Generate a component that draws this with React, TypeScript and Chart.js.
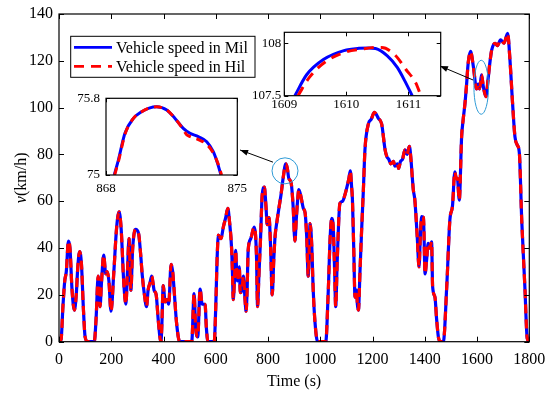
import React, { useEffect, useRef } from "react";
import { Chart, registerables } from "chart.js";

Chart.register(...registerables);

const FONT = "'Liberation Serif', 'Times New Roman', serif";
const BLUE = "#0000ff";
const RED = "#ff0000";
const RING = "#2f9bd6";

// ---------------- main chart data ----------------
const timeS = [
  0, 8, 15, 22, 28, 36, 42, 50, 59, 66, 72, 79, 86, 93, 100, 110, 135, 142, 150, 157,
  163, 171, 179, 184, 191, 199, 210, 220, 230, 238, 248, 256, 262, 268, 275, 282, 293, 305, 312, 319,
  327, 335, 341, 348, 355, 364, 372, 380, 390, 393, 399, 406, 413, 420, 429, 435, 440, 450, 462, 508,
  517, 523, 531, 540, 548, 555, 559, 564, 570, 594, 600, 605, 610, 620, 629, 638, 646, 652, 661, 664,
  667, 672, 676, 680, 683, 690, 694, 700, 706, 712, 716, 720, 724, 734, 747, 752, 756, 760, 765, 771,
  778, 786, 792, 797, 804, 810, 816, 822, 827, 835, 843, 850, 858, 868, 874, 879, 889, 896, 903, 908,
  913, 918, 926, 935, 942, 948, 954, 961, 967, 973, 980, 990, 1021, 1030, 1038, 1044, 1050, 1055, 1059, 1065,
  1075, 1085, 1095, 1102, 1110, 1115, 1120, 1123, 1128, 1133, 1139, 1142, 1146, 1152, 1158, 1165, 1171, 1184, 1195, 1207,
  1215, 1222, 1235, 1248, 1255, 1262, 1270, 1280, 1286, 1295, 1300, 1307, 1315, 1324, 1332, 1341, 1347, 1352, 1356, 1362,
  1371, 1378, 1383, 1388, 1395, 1401, 1407, 1413, 1420, 1426, 1430, 1439, 1445, 1452, 1460, 1471, 1484, 1496, 1506, 1515,
  1520, 1525, 1532, 1541, 1547, 1554, 1560, 1566, 1575, 1586, 1598, 1604, 1610, 1617, 1624, 1634, 1643, 1650, 1656, 1669,
  1678, 1690, 1703, 1717, 1726, 1736, 1745, 1754, 1762, 1771, 1783, 1792, 1800,
];
const milSpeed = [
  0, 1, 15, 26, 30, 43, 40, 22, 13.5, 20, 32, 38.5, 33, 15, 2, 0, 0, 10, 28, 15,
  26, 37, 29, 30, 26, 13, 30, 48, 55.5, 48, 25, 16, 30, 44, 22, 40, 48, 46, 38, 28,
  20, 15, 22, 25, 28, 22, 20, 9, 0, 5, 24, 17, 18, 16, 33, 30, 23, 8, 0, 0,
  20.5, 6, 2, 22.5, 16, 16, 16, 6, 0, 0, 15, 35, 45.5, 44, 49, 53, 57, 52, 39, 29,
  18, 28, 39, 30, 26, 32, 21, 22, 28, 18, 13, 22, 39, 44, 49, 46, 36, 15, 28, 43,
  63, 66, 58, 50, 53, 40, 20, 35, 45, 52, 58, 63, 70, 76, 74, 70, 67.5, 58, 43, 52,
  60, 65, 62, 57, 55, 45, 28, 50.5, 42, 22, 8, 0, 0, 20, 45, 52.7, 48, 30, 15, 35,
  59, 60, 63, 66, 70, 73, 66, 61, 40, 19, 22, 16, 13.5, 30, 47, 65, 82, 93, 95, 98,
  97, 95.5, 93, 82, 79, 78, 76, 77, 75, 76, 74, 77, 78, 82, 80, 83.5, 78, 70.5, 65, 60.5,
  45, 32, 45, 53.4, 53, 29, 35, 42, 40, 42.7, 23.5, 19, 10, 2, 0, 0, 23.5, 52, 58, 72.6,
  70, 69.6, 60.5, 87.6, 95, 102, 110, 119, 124, 117.5, 108, 110, 108, 114, 109, 104.7, 113, 120, 124.6, 127.5,
  126.5, 129, 127.5, 131.7, 120.3, 101.8, 87.6, 84, 80.5, 52, 23.5, 1.5, 0,
];
// The HiL trace lies on top of the MiL trace at this scale
const hilSpeed = milSpeed.slice();

const xTicks = [0, 200, 400, 600, 800, 1000, 1200, 1400, 1600, 1800];
const yTicks = [0, 20, 40, 60, 80, 100, 120, 140];

// ---------------- inset 1 data (868–875 s) ----------------
const in1MilT = [868.44, 868.66, 869.01, 869.46, 869.9, 870.3, 870.7, 871.24, 871.68, 872.12, 872.48, 872.92, 873.37, 873.72, 873.95, 874.13];
const in1MilV = [75.0, 75.156, 75.435, 75.59, 75.66, 75.698, 75.712, 75.678, 75.59, 75.487, 75.435, 75.4, 75.347, 75.243, 75.12, 75.0];
const in1HilT = [868.46, 868.68, 869.02, 869.46, 869.9, 870.3, 870.7, 871.24, 871.68, 872.1, 872.3, 872.5, 872.92, 873.37, 873.72, 873.97, 874.16];
const in1HilV = [75.0, 75.156, 75.43, 75.59, 75.66, 75.698, 75.712, 75.678, 75.59, 75.48, 75.42, 75.4, 75.37, 75.32, 75.23, 75.12, 75.0];
const in1XTicks = [868, 875];
const in1YTicks = [75, 75.8];

// ---------------- inset 2 data (1609–1611.5 s) ----------------
const in2MilT = [1609.17, 1609.36, 1609.63, 1609.96, 1610.2, 1610.36, 1610.47, 1610.66, 1610.82, 1610.96, 1611.06];
const in2MilV = [107.5, 107.7, 107.845, 107.93, 107.952, 107.955, 107.95, 107.88, 107.77, 107.62, 107.5];
const in2HilT = [1609.22, 1609.41, 1609.68, 1610.01, 1610.25, 1610.49, 1610.57, 1610.78, 1610.96, 1611.12, 1611.2];
const in2HilV = [107.5, 107.68, 107.83, 107.92, 107.945, 107.96, 107.96, 107.89, 107.75, 107.62, 107.5];
const in2XTicks = [1609, 1610, 1611];
const in2YTicks = [107.5, 108];

const pts = (t: number[], v: number[]) => t.map((x, i) => ({ x, y: v[i] }));
const plain = (v: any) => String(v);

function frameTicksPlugin(id: string, xt: number[], yt: number[], len: number) {
  return {
    id,
    afterDraw(chart: any) {
      const { ctx, chartArea: a, scales } = chart;
      ctx.save();
      ctx.strokeStyle = "#000";
      ctx.lineWidth = 1;
      ctx.beginPath();
      for (const v of xt) {
        const px = Math.round(scales.x.getPixelForValue(v)) + 0.5;
        ctx.moveTo(px, a.bottom);
        ctx.lineTo(px, a.bottom - len);
        ctx.moveTo(px, a.top);
        ctx.lineTo(px, a.top + len);
      }
      for (const v of yt) {
        const py = Math.round(scales.y.getPixelForValue(v)) + 0.5;
        ctx.moveTo(a.left, py);
        ctx.lineTo(a.left + len, py);
        ctx.moveTo(a.right, py);
        ctx.lineTo(a.right - len, py);
      }
      ctx.stroke();
      ctx.lineWidth = 1.2;
      ctx.strokeRect(a.left, a.top, a.right - a.left, a.bottom - a.top);
      ctx.restore();
    },
  };
}

// annotation positions (data units)
const ring1 = { t: 865, v: 73, rx: 13, ry: 13 };
const ring2 = { t: 1616, v: 108.7, rx: 7.3, ry: 27 };
const arrow1 = { fromT: 819, fromV: 76.7, toT: 693, toV: 81.9 };
const arrow2 = { fromT: 1585, fromV: 111.8, toT: 1458, toV: 117.8 };

const mainDecor = {
  id: "mainDecor",
  afterDraw(chart: any) {
    const { ctx, chartArea: a, scales } = chart;
    const X = (v: number) => scales.x.getPixelForValue(v);
    const Y = (v: number) => scales.y.getPixelForValue(v);
    ctx.save();
    ctx.strokeStyle = RING;
    ctx.lineWidth = 1;
    for (const r of [ring1, ring2]) {
      ctx.beginPath();
      ctx.ellipse(X(r.t), Y(r.v), r.rx, r.ry, 0, 0, Math.PI * 2);
      ctx.stroke();
    }
    ctx.strokeStyle = "#000";
    ctx.fillStyle = "#000";
    for (const ar of [arrow1, arrow2]) {
      const x1 = X(ar.fromT), y1 = Y(ar.fromV), x2 = X(ar.toT), y2 = Y(ar.toV);
      const ang = Math.atan2(y2 - y1, x2 - x1);
      ctx.beginPath();
      ctx.moveTo(x1, y1);
      ctx.lineTo(x2, y2);
      ctx.stroke();
      ctx.beginPath();
      ctx.moveTo(x2, y2);
      ctx.lineTo(x2 - 8 * Math.cos(ang) + 3 * Math.sin(ang), y2 - 8 * Math.sin(ang) - 3 * Math.cos(ang));
      ctx.lineTo(x2 - 8 * Math.cos(ang) - 3 * Math.sin(ang), y2 - 8 * Math.sin(ang) + 3 * Math.cos(ang));
      ctx.closePath();
      ctx.fill();
    }
    // legend
    const lx = 70.7, ly = 36.3, lw = 184.3, lh = 41;
    ctx.fillStyle = "#fff";
    ctx.fillRect(lx, ly, lw, lh);
    ctx.lineWidth = 1;
    ctx.strokeStyle = "#000";
    ctx.strokeRect(lx, ly, lw, lh);
    const rows = [
      { y: 47.3, color: BLUE, dash: [] as number[], text: "Vehicle speed in Mil" },
      { y: 66.3, color: RED, dash: [10, 7], text: "Vehicle speed in Hil" },
    ];
    for (const r of rows) {
      ctx.strokeStyle = r.color;
      ctx.lineWidth = 2.8;
      ctx.setLineDash(r.dash);
      ctx.beginPath();
      ctx.moveTo(74, r.y);
      ctx.lineTo(112, r.y);
      ctx.stroke();
      ctx.setLineDash([]);
      ctx.fillStyle = "#000";
      ctx.font = `16px ${FONT}`;
      ctx.textBaseline = "middle";
      ctx.textAlign = "left";
      ctx.fillText(r.text, 116, r.y + 1);
    }
    // y-axis title with italic v
    ctx.translate(22, (a.top + a.bottom) / 2);
    ctx.rotate(-Math.PI / 2);
    ctx.textBaseline = "middle";
    ctx.textAlign = "left";
    ctx.font = `italic 16px ${FONT}`;
    const w1 = ctx.measureText("v").width;
    ctx.font = `16px ${FONT}`;
    const w2 = ctx.measureText("(km/h)").width;
    const start = -(w1 + w2) / 2;
    ctx.font = `italic 16px ${FONT}`;
    ctx.fillText("v", start, 0);
    ctx.font = `16px ${FONT}`;
    ctx.fillText("(km/h)", start + w1, 0);
    ctx.restore();
  },
};

function MainChart() {
  const ref = useRef<HTMLCanvasElement>(null);
  useEffect(() => {
    const chart = new Chart(ref.current as HTMLCanvasElement, {
      type: "line",
      data: {
        datasets: [
          {
            label: "Vehicle speed in Hil",
            data: pts(timeS, hilSpeed),
            borderColor: RED,
            borderWidth: 3.2,
            borderDash: [9, 6],
            pointRadius: 0,
            cubicInterpolationMode: "monotone",
            fill: false,
          },
          {
            label: "Vehicle speed in Mil",
            data: pts(timeS, milSpeed),
            borderColor: BLUE,
            borderWidth: 3.2,
            pointRadius: 0,
            cubicInterpolationMode: "monotone",
            fill: false,
          },
        ],
      },
      options: {
        responsive: false,
        animation: false,
        devicePixelRatio: 1,
        layout: { padding: { top: 14, right: 20.7, left: 0, bottom: 0 } },
        plugins: { legend: { display: false }, tooltip: { enabled: false } },
        scales: {
          x: {
            type: "linear",
            min: 0,
            max: 1800,
            afterBuildTicks: (s: any) => { s.ticks = xTicks.map((value) => ({ value })); },
            afterFit: (s: any) => { s.height = 51.3; s.paddingLeft = 0; s.paddingRight = 0; },
            grid: { display: false, drawTicks: false },
            border: { display: false },
            ticks: { font: { family: FONT, size: 16 }, color: "#000", padding: 8, maxRotation: 0, autoSkip: false, callback: plain },
            title: { display: true, text: "Time (s)", font: { family: FONT, size: 16 }, color: "#000", padding: { top: 0, bottom: 2 } },
          },
          y: {
            type: "linear",
            min: 0,
            max: 140,
            afterBuildTicks: (s: any) => { s.ticks = yTicks.map((value) => ({ value })); },
            afterFit: (s: any) => { s.width = 59; s.paddingTop = 0; s.paddingBottom = 0; },
            grid: { display: false, drawTicks: false },
            border: { display: false },
            ticks: { font: { family: FONT, size: 16 }, color: "#000", padding: 6, autoSkip: false, callback: plain },
          },
        },
      },
      plugins: [frameTicksPlugin("mainFrame", xTicks, yTicks, 5), mainDecor],
    } as any);
    return () => chart.destroy();
  }, []);
  return <canvas ref={ref} width={550} height={393} style={{ position: "absolute", left: 0, top: 0, width: 550, height: 393 }} />;
}

type InsetProps = {
  left: number; top: number; width: number; height: number;
  box: { l: number; t: number; r: number; b: number };
  xMin: number; xMax: number; yMin: number; yMax: number;
  xt: number[]; yt: number[];
  milT: number[]; milV: number[]; hilT: number[]; hilV: number[];
  xPad: number; yPad: number; dash: number[];
};

function Inset(p: InsetProps) {
  const ref = useRef<HTMLCanvasElement>(null);
  useEffect(() => {
    const bg = {
      id: "insetBg",
      beforeDraw(chart: any) {
        const { ctx, chartArea: a } = chart;
        ctx.save();
        ctx.fillStyle = "#fff";
        ctx.fillRect(a.left, a.top, a.right - a.left, a.bottom - a.top);
        ctx.restore();
      },
    };
    const chart = new Chart(ref.current as HTMLCanvasElement, {
      type: "line",
      data: {
        datasets: [
          {
            data: pts(p.hilT, p.hilV),
            borderColor: RED,
            borderWidth: 3,
            borderDash: p.dash,
            pointRadius: 0,
            cubicInterpolationMode: "monotone",
            fill: false,
          },
          {
            data: pts(p.milT, p.milV),
            borderColor: BLUE,
            borderWidth: 3,
            pointRadius: 0,
            cubicInterpolationMode: "monotone",
            fill: false,
          },
        ],
      },
      options: {
        responsive: false,
        animation: false,
        devicePixelRatio: 1,
        layout: { padding: { top: p.box.t, right: p.width - p.box.r, left: 0, bottom: 0 } },
        plugins: { legend: { display: false }, tooltip: { enabled: false } },
        scales: {
          x: {
            type: "linear",
            min: p.xMin,
            max: p.xMax,
            afterBuildTicks: (s: any) => { s.ticks = p.xt.map((value) => ({ value })); },
            afterFit: (s: any) => { s.height = p.height - p.box.b; s.paddingLeft = 0; s.paddingRight = 0; },
            grid: { display: false, drawTicks: false },
            border: { display: false },
            ticks: { font: { family: FONT, size: 13 }, color: "#000", padding: p.xPad, maxRotation: 0, autoSkip: false, callback: plain },
          },
          y: {
            type: "linear",
            min: p.yMin,
            max: p.yMax,
            afterBuildTicks: (s: any) => { s.ticks = p.yt.map((value) => ({ value })); },
            afterFit: (s: any) => { s.width = p.box.l; s.paddingTop = 0; s.paddingBottom = 0; },
            grid: { display: false, drawTicks: false },
            border: { display: false },
            ticks: { font: { family: FONT, size: 13 }, color: "#000", padding: p.yPad, autoSkip: false, callback: plain },
          },
        },
      },
      plugins: [bg, frameTicksPlugin("insetFrame", p.xt, p.yt, 4)],
    } as any);
    return () => chart.destroy();
  }, []);
  return (
    <canvas
      ref={ref}
      width={p.width}
      height={p.height}
      style={{ position: "absolute", left: p.left, top: p.top, width: p.width, height: p.height }}
    />
  );
}

export default function App() {
  return (
    <div style={{ position: "absolute", left: 0, top: 0, width: 550, height: 393, background: "#fff" }}>
      <MainChart />
      <Inset
        left={60} top={88} width={195} height={110}
        box={{ l: 46, t: 10.3, r: 177.3, b: 87 }}
        xMin={868} xMax={875} yMin={75} yMax={75.8}
        xt={in1XTicks} yt={in1YTicks}
        milT={in1MilT} milV={in1MilV} hilT={in1HilT} hilV={in1HilV}
        xPad={5.5} yPad={6} dash={[8, 6]}
      />
      <Inset
        left={245} top={22} width={210} height={95}
        box={{ l: 39.3, t: 10.3, r: 195.7, b: 73.7 }}
        xMin={1609} xMax={1611.52} yMin={107.5} yMax={108.105}
        xt={in2XTicks} yt={in2YTicks}
        milT={in2MilT} milV={in2MilV} hilT={in2HilT} hilV={in2HilV}
        xPad={1} yPad={3} dash={[10, 7]}
      />
    </div>
  );
}
